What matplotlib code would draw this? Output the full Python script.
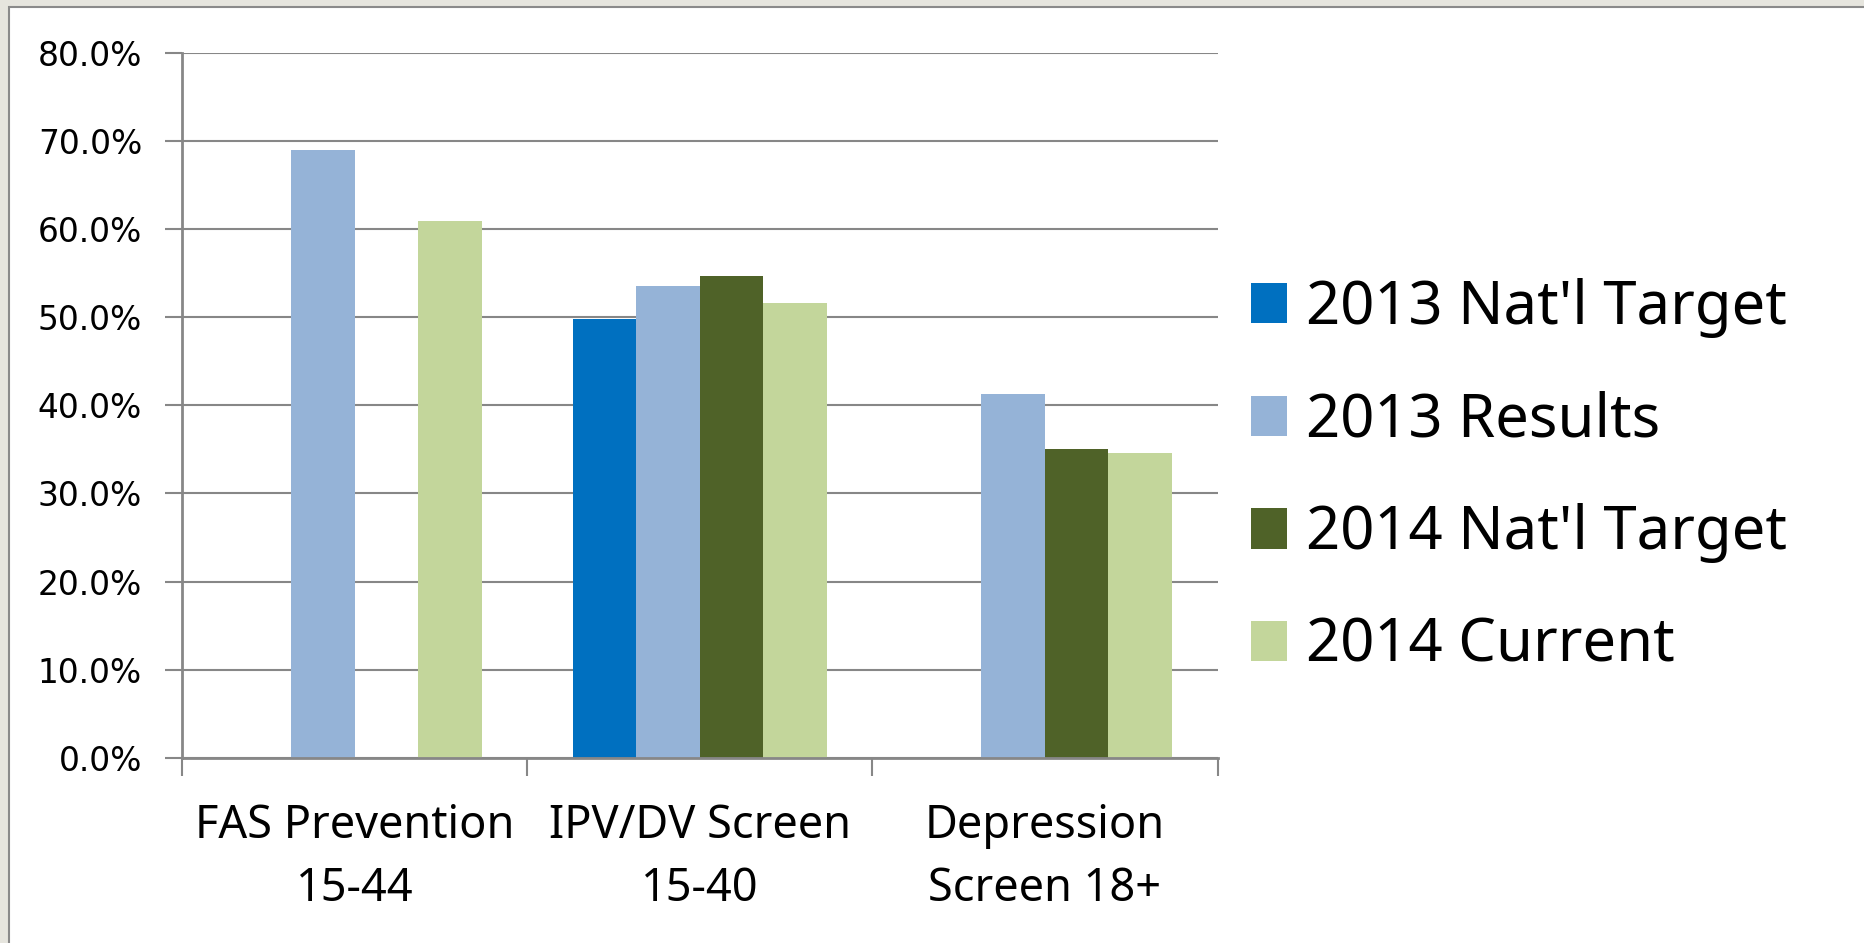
import numpy as np
import matplotlib
matplotlib.use("Agg")
import matplotlib.pyplot as plt
from matplotlib.patches import Rectangle
from matplotlib.ticker import PercentFormatter

# data
categories = ["FAS Prevention\n15-44", "IPV/DV Screen\n15-40", "Depression\nScreen 18+"]
series_names = ["2013 Nat'l Target", "2013 Results", "2014 Nat'l Target", "2014 Current"]
target_2013 = [np.nan, 0.498, np.nan]
results_2013 = [0.690, 0.535, 0.413]
target_2014 = [np.nan, 0.546, 0.350]
current_2014 = [0.609, 0.516, 0.346]
y_ticks = [0.0, 0.1, 0.2, 0.3, 0.4, 0.5, 0.6, 0.7, 0.8]

colors = ["#0070C0", "#95B3D7", "#4F6228", "#C3D69B"]
grid_gray = "#878787"

W, H = 1864, 943
fig = plt.figure(figsize=(W / 100, H / 100), dpi=100)
fig.patch.set_facecolor("#e6e5de")

# white chart area with gray frame on top/left
frame = Rectangle((8.5 / W, -0.1), 1.2, 1 - 7 / H + 0.1, transform=fig.transFigure,
                  facecolor="white", edgecolor="#8a8a8a", linewidth=1.5, zorder=0)
fig.add_artist(frame)

ax = fig.add_axes([182 / W, 1 - 758 / H, (1217.5 - 182) / W, (758 - 52.5) / H])
ax.set_facecolor("none")

x = np.arange(len(categories))
bar_w = 0.184
all_series = [target_2013, results_2013, target_2014, current_2014]
for i, (vals, name, col) in enumerate(zip(all_series, series_names, colors)):
    ax.bar(x + (i - 1.5) * bar_w, vals, width=bar_w, color=col, label=name,
           linewidth=0, zorder=3)

ax.set_ylim(0, 0.8)
ax.set_xlim(-0.5, len(categories) - 0.5)
ax.set_yticks(y_ticks)
ax.yaxis.set_major_formatter(PercentFormatter(xmax=1, decimals=1))
ax.yaxis.grid(True, color=grid_gray, linewidth=1.5, zorder=1)
ax.set_axisbelow(True)

for side in ["top", "right"]:
    ax.spines[side].set_visible(False)
for side in ["left", "bottom"]:
    ax.spines[side].set_color(grid_gray)
    ax.spines[side].set_linewidth(2.0)
    ax.spines[side].set_zorder(4)

ax.tick_params(axis="y", direction="out", length=12.2, width=1.5, color=grid_gray,
               pad=16.5, labelsize=23.7, labelcolor="black")
for lab in ax.get_yticklabels():
    lab.set_family("DejaVu Sans")

# category boundaries as major ticks, labels at centres
ax.set_xticks(np.arange(len(categories) + 1) - 0.5)
ax.set_xticklabels([""] * (len(categories) + 1))
ax.set_xticks(x, minor=True)
ax.set_xticklabels(categories, minor=True, fontsize=32.5, family="Noto Sans",
                   linespacing=1.48)
ax.tick_params(axis="x", which="major", direction="out", length=13, width=1.5,
               color=grid_gray)
ax.tick_params(axis="x", which="minor", length=0, pad=32.5)

ax.legend(loc="center left", bbox_to_anchor=(1251 / W, 1 - 477 / H),
          bbox_transform=fig.transFigure, frameon=False, borderpad=0,
          borderaxespad=0, prop={"family": "Noto Sans", "size": 43},
          handlelength=0.6, handleheight=0.667, handletextpad=0.32,
          labelspacing=0.88)

fig.savefig("out.png", dpi=100, facecolor=fig.get_facecolor())
